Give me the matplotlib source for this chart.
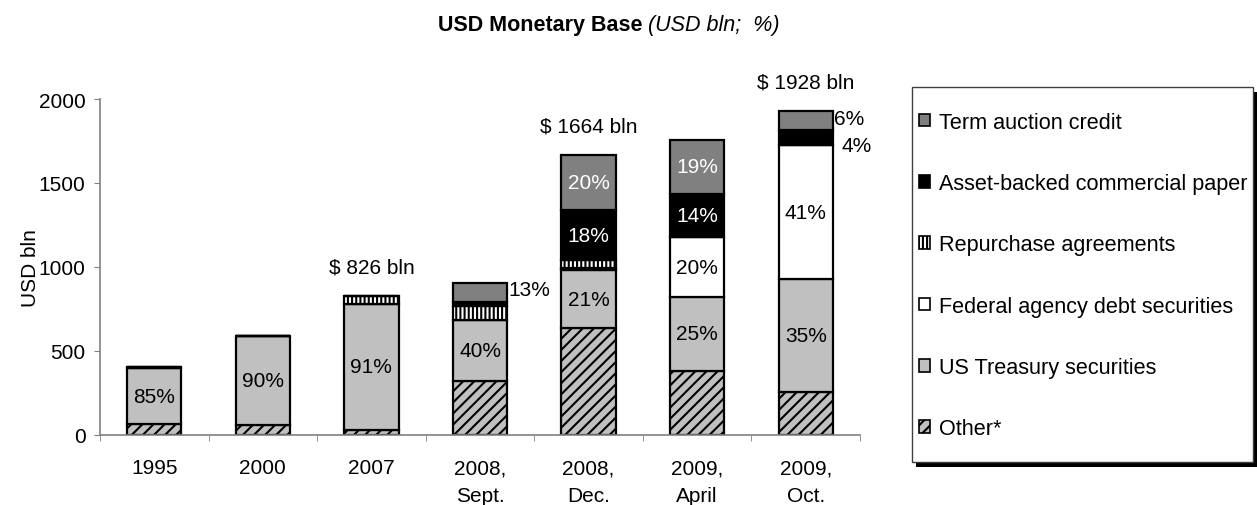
import numpy as np
import matplotlib
matplotlib.use("Agg")
import matplotlib.pyplot as plt
from matplotlib.patches import Patch, Rectangle

plt.rcParams['font.family'] = ['Liberation Sans', 'DejaVu Sans']
plt.rcParams['hatch.linewidth'] = 1.5

# Data (USD bln)
categories = ['1995', '2000', '2007', '2008,\nSept.', '2008,\nDec.', '2009,\nApril', '2009,\nOct.']
other = [62, 60, 30, 322, 634, 381, 253]
treasury = [336, 526, 750, 363, 345, 441, 675]
federal = [0, 0, 0, 0, 15, 354, 795]
repo = [8, 0, 46, 80, 45, 0, 0]
abcp = [0, 0, 0, 25, 300, 258, 90]
term = [0, 0, 0, 115, 325, 322, 115]

# Percent labels inside segments
treasury_pct = ['85%', '90%', '91%', '40%', '21%', '25%', '35%']
federal_pct = ['', '', '', '', '', '20%', '41%']
abcp_pct = ['', '', '', '', '18%', '14%', '']
term_pct = ['', '', '', '', '20%', '19%', '']
total_labels = ['', '', '$ 826 bln', '', '$ 1664 bln', '', '$ 1928 bln']

series = [
    ('Other*', other, dict(facecolor='#c0c0c0', hatch='///')),
    ('US Treasury securities', treasury, dict(facecolor='#c0c0c0')),
    ('Federal agency debt securities', federal, dict(facecolor='white')),
    ('Repurchase agreements', repo, dict(facecolor='white', hatch='||||')),
    ('Asset-backed commercial paper', abcp, dict(facecolor='black')),
    ('Term auction credit', term, dict(facecolor='#808080')),
]

W, H = 1257, 506
fig = plt.figure(figsize=(W / 100, H / 100), dpi=100)
ax = fig.add_axes([100 / W, 1 - 435.7 / H, 760 / W, 335.7 / H])

x = np.arange(len(categories))
width = 0.5
bottom = np.zeros(len(categories))
bottoms = {}
for name, vals, style in series:
    vals = np.array(vals, dtype=float)
    ax.bar(x, vals, width, bottom=bottom, edgecolor='black', linewidth=1.6, **style)
    bottoms[name] = bottom.copy()
    bottom = bottom + vals
totals = bottom

fs = 15

def seg_labels(name, vals, labels, color):
    for i, (v, lab) in enumerate(zip(vals, labels)):
        if lab:
            ax.text(i, bottoms[name][i] + v / 2, lab, ha='center', va='center',
                    fontsize=fs, color=color)

seg_labels('US Treasury securities', treasury, treasury_pct, 'black')
seg_labels('Federal agency debt securities', federal, federal_pct, 'black')
seg_labels('Asset-backed commercial paper', abcp, abcp_pct, 'white')
seg_labels('Term auction credit', term, term_pct, 'white')

for i, lab in enumerate(total_labels):
    if lab:
        ax.annotate(lab, (i, totals[i]), xytext=(0, 21), textcoords='offset points',
                    ha='center', va='center', fontsize=fs)

# labels beside the bars
ax.annotate('13%', (3 + width / 2, totals[3]), xytext=(1, -5), textcoords='offset points',
            ha='left', va='center', fontsize=fs)
ax.annotate('6%', (6 + width / 2, totals[6]), xytext=(1, -5), textcoords='offset points',
            ha='left', va='center', fontsize=fs)
ax.annotate('4%', (6 + width / 2, bottoms['Asset-backed commercial paper'][6]),
            xytext=(6, 0), textcoords='offset points', ha='left', va='center', fontsize=fs)

ax.set_xlim(-0.5, len(categories) - 0.5)
ax.set_ylim(0, 2000)
ax.set_yticks([0, 500, 1000, 1500, 2000])
ax.set_xticks(x)
ax.set_xticklabels(categories, fontsize=15, linespacing=1.55)
ax.set_xticks(np.arange(-0.5, len(categories)), minor=True)
ax.tick_params(axis='x', which='major', length=0, pad=17)
ax.tick_params(axis='x', which='minor', length=4.5, color='#808080', direction='out')
ax.tick_params(axis='y', length=4.5, color='#808080', direction='out', labelsize=15, pad=6)
for s in ['top', 'right']:
    ax.spines[s].set_visible(False)
for s in ['left', 'bottom']:
    ax.spines[s].set_color('#808080')
    ax.spines[s].set_linewidth(1.2)

fig.text(30 / W, 1 - 268 / H, 'USD bln', rotation=90, ha='center', va='center', fontsize=15)

fig.text(643 / W, 1 - 25 / H, 'USD Monetary Base', ha='right', va='center',
         fontsize=15.5, fontweight='bold')
fig.text(648 / W, 1 - 25 / H, '(USD bln;  %)', ha='left', va='center',
         fontsize=15.5, style='italic')

# legend box with drop shadow
x0, x1, y0, y1 = 911.7, 1253, 88.3, 463
fig.add_artist(Rectangle(((x0 + 4) / W, 1 - (y1 + 4.5) / H), (x1 - x0) / W, (y1 - y0) / H,
                         transform=fig.transFigure, facecolor='black', edgecolor='none'))
fig.add_artist(Rectangle((x0 / W, 1 - y1 / H), (x1 - x0) / W, (y1 - y0) / H,
                         transform=fig.transFigure, facecolor='white', edgecolor='#404040',
                         linewidth=1))

handles = [Patch(edgecolor='black', linewidth=1.2, label=name, **style)
           for name, vals, style in reversed(series)]
leg = fig.legend(handles=handles, loc='center left',
                 bbox_to_anchor=(919 / W, 1 - 276.5 / H), frameon=False,
                 fontsize=15.6, handlelength=0.52, handleheight=0.52,
                 handletextpad=0.4, labelspacing=1.86, borderpad=0, borderaxespad=0)

fig.savefig('out.png', dpi=100)
